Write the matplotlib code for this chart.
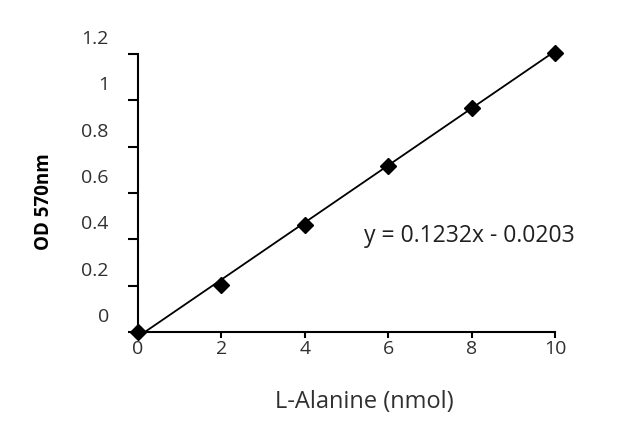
import numpy as np
import matplotlib.pyplot as plt
import matplotlib.transforms as mtransforms

plt.rcParams['font.family'] = ['Open Sans', 'DejaVu Sans']

# standard curve
nmol = [0, 2, 4, 6, 8, 10]
od570 = [0.0, 0.203, 0.462, 0.716, 0.965, 1.204]
slope = 0.1232
intercept = -0.0203
xticks = [0, 2, 4, 6, 8, 10]
yticks = [0, 0.2, 0.4, 0.6, 0.8, 1.0, 1.2]
ytick_labels = ['0', '0.2', '0.4', '0.6', '0.8', '1', '1.2']
equation = 'y = 0.1232x - 0.0203'

W, H = 640, 432
fig = plt.figure(figsize=(W / 100, H / 100), dpi=100)
ax = fig.add_axes([0.2156, 0.2315, 0.6514, 0.6435])

# linear trendline (clipped by the axes at y=0)
xfit = np.array([nmol[0], nmol[-1]])
ax.plot(xfit, slope * xfit + intercept, color='black', lw=1.3, zorder=2)
ax.plot(nmol, od570, ls='none', color='black', marker='D', ms=8.5,
        clip_on=False, zorder=3)

ax.set_xlim(0, 10)
ax.set_ylim(0, 1.2)
ax.set_xticks(xticks)
ax.set_yticks(yticks)
ax.set_yticklabels(ytick_labels)

for s in ['top', 'right']:
    ax.spines[s].set_visible(False)
for s in ['left', 'bottom']:
    ax.spines[s].set_linewidth(1.5)

ax.tick_params(axis='y', direction='out', length=7, width=1.5, pad=14,
               labelsize=14, labelcolor='#303030')
ax.tick_params(axis='x', direction='out', length=4, width=1.5, pad=2,
               labelsize=14, labelcolor='#303030')

# excel puts the y labels a bit above their ticks
shift = mtransforms.ScaledTranslation(0, 17 / 100, fig.dpi_scale_trans)
for lab in ax.get_yticklabels():
    lab.set_transform(lab.get_transform() + shift)

# titles placed in pixel spots (top-left origin)
fig.text(364 / W, 1 - 402 / H, 'L-Alanine (nmol)', fontsize=17,
         color='#303030', ha='center', va='center')
fig.text(44 / W, 1 - 202 / H, 'OD 570nm', fontsize=13.5, fontweight='bold',
         rotation=90, ha='center', va='center')
fig.text(469 / W, 1 - 236 / H, equation, fontsize=16.5, color='#202020',
         ha='center', va='center')

fig.savefig('out.png', dpi=100)
